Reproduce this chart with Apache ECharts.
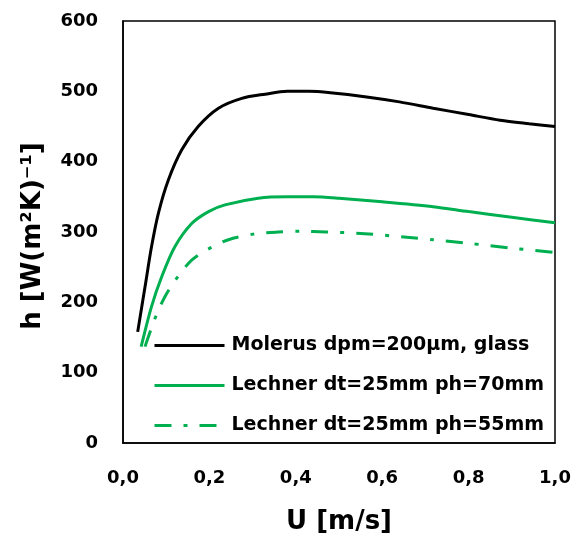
<!DOCTYPE html>
<html>
<head>
<meta charset="utf-8">
<script src="https://cdn.jsdelivr.net/npm/echarts@6/dist/echarts.min.js"></script>
<style>
    html, body { margin: 0; padding: 0; background: #fff; }
    #chart { width: 575px; height: 541px; }
</style>
</head>
<body>
<div id="chart"></div>
<script>
// Molerus dpm=200µm, glass
const molerusU = [0.034, 0.051, 0.066, 0.082, 0.105, 0.136, 0.174, 0.221, 0.275, 0.329, 0.38, 0.43, 0.48, 0.564, 0.64, 0.718, 0.8, 0.873, 0.94, 1.0];
const molerusH = [158, 222, 279, 327, 374, 417, 450, 476, 490, 496, 500, 500, 498, 492, 485, 476, 467, 459, 454, 450];

// Lechner dt=25mm ph=70mm
const lechner70U = [0.042, 0.066, 0.090, 0.120, 0.159, 0.198, 0.236, 0.313, 0.38, 0.44, 0.5, 0.6, 0.718, 0.8, 0.9, 1.0];
const lechner70H = [137, 194, 237, 279, 312, 329, 338.5, 348, 350, 350, 348, 343, 336, 329, 321, 313];

// Lechner dt=25mm ph=55mm
const lechner55U = [0.051, 0.074, 0.097, 0.124, 0.159, 0.201, 0.244, 0.302, 0.36, 0.41, 0.47, 0.55, 0.65, 0.718, 0.8, 0.9, 1.0];
const lechner55H = [137, 177, 208, 234, 260, 277, 289, 297, 300, 301, 300, 298, 293, 289, 284, 277, 271];

const xTicks = ['0,0', '0,2', '0,4', '0,6', '0,8', '1,0'];

const font = 'DejaVu Sans';
const green = '#00B050';

function pairs(xs, ys) {
    return xs.map((x, i) => [x, ys[i]]);
}

const chart = echarts.init(document.getElementById('chart'));
chart.setOption({
    animation: false,
    backgroundColor: '#fff',
    grid: {
        left: 123,
        right: 20,
        top: 21,
        bottom: 98,
        show: true,
        borderColor: '#000',
        borderWidth: 1.5
    },
    legend: {
        orient: 'vertical',
        left: 153,
        top: 336,
        padding: 0,
        itemWidth: 70,
        itemHeight: 14,
        itemGap: 21,
        itemStyle: { opacity: 0 },
        lineStyle: { width: 3 },
        textStyle: { fontFamily: font, fontWeight: 'bold', fontSize: 19, color: '#000', padding: [0, 0, 0, 2] },
        data: ['Molerus dpm=200µm, glass', 'Lechner dt=25mm ph=70mm', 'Lechner dt=25mm ph=55mm']
    },
    xAxis: {
        type: 'value',
        min: 0,
        max: 1,
        interval: 0.2,
        name: 'U [m/s]',
        nameLocation: 'middle',
        nameGap: 66,
        nameTextStyle: { fontFamily: font, fontWeight: 'bold', fontSize: 26, color: '#000' },
        axisLine: { show: true, lineStyle: { color: '#000', width: 1.5 } },
        axisTick: { show: false },
        splitLine: { show: false },
        axisLabel: {
            margin: 26,
            fontFamily: font, fontWeight: 'bold', fontSize: 18, color: '#000',
            formatter: v => xTicks[Math.round(v / 0.2)]
        }
    },
    yAxis: {
        type: 'value',
        min: 0,
        max: 600,
        interval: 100,
        name: 'h [W(m²K)⁻¹]',
        nameLocation: 'middle',
        nameGap: 77,
        nameTextStyle: { fontFamily: font, fontWeight: 'bold', fontSize: 26, color: '#000', padding: [0, 8, 0, 0] },
        axisLine: { show: true, lineStyle: { color: '#000', width: 1.5 } },
        axisTick: { show: false },
        splitLine: { show: false },
        axisLabel: { margin: 25, fontFamily: font, fontWeight: 'bold', fontSize: 18, color: '#000' }
    },
    series: [
        {
            name: 'Molerus dpm=200µm, glass',
            type: 'line',
            smooth: 0.3,
            showSymbol: false,
            symbol: 'none',
            data: pairs(molerusU, molerusH),
            lineStyle: { color: '#000', width: 3 },
            itemStyle: { color: '#000' }
        },
        {
            name: 'Lechner dt=25mm ph=70mm',
            type: 'line',
            smooth: 0.3,
            showSymbol: false,
            symbol: 'none',
            data: pairs(lechner70U, lechner70H),
            lineStyle: { color: green, width: 3 },
            itemStyle: { color: green }
        },
        {
            name: 'Lechner dt=25mm ph=55mm',
            type: 'line',
            smooth: 0.3,
            showSymbol: false,
            symbol: 'none',
            data: pairs(lechner55U, lechner55H),
            lineStyle: { color: green, width: 3, type: [17, 12, 4, 12] },
            itemStyle: { color: green }
        }
    ]
});
</script>
</body>
</html>
